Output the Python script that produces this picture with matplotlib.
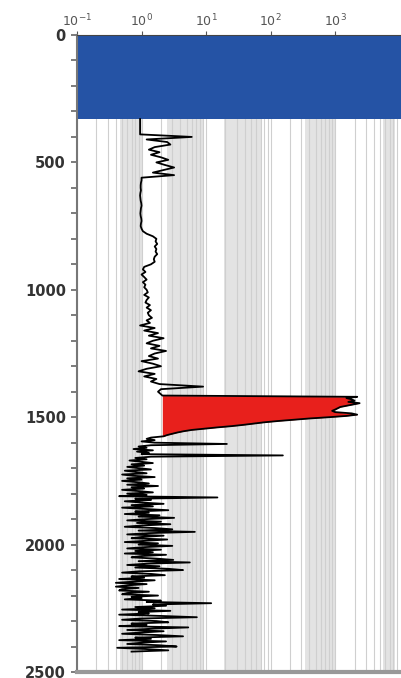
import numpy as np
import matplotlib
matplotlib.use('Agg')
import matplotlib.pyplot as plt
from matplotlib.ticker import NullLocator

# water column (depth m)
WATER_TOP = 0
WATER_BOTTOM = 330

# upper log, sampled every 10 m from 330 m
UPPER_START, UPPER_STEP = 330, 10
UPPER_RES = [
    0.95, 0.95, 0.95, 0.95, 0.95, 0.95, 0.95,
    6.0,
    1.2, 2.5, 2.8, 1.6, 1.3, 1.9, 1.4, 2.0, 2.6, 1.7, 2.3, 3.2, 2.2, 1.5, 3.2, 1.0,
    1.0, 0.98, 0.97, 0.97, 0.98, 0.96, 0.95, 0.96, 0.97, 0.99, 1.0, 0.98, 0.97,
    0.96, 0.97, 0.99, 1.0, 0.98, 0.97, 1.0, 1.05,
    1.2, 1.5, 1.7, 1.65, 1.75, 1.6, 1.7, 1.65, 1.75, 1.6, 1.55, 1.6, 1.4,
    1.1, 1.05, 1.15, 1.0, 1.1, 1.2, 1.05, 1.15, 1.1, 1.2,
    1.25, 1.1, 1.3, 1.2, 1.15, 1.35, 1.2, 1.4, 1.25, 1.3, 1.45, 1.2, 1.35,
    0.95, 1.6, 1.1, 1.8, 1.3, 2.2, 1.5, 1.2, 1.9, 1.4, 2.4, 1.6,
    1.3, 1.8, 1.0, 1.5, 2.0, 1.2, 0.9, 1.6, 1.1, 1.7, 1.4, 1.9, 9.0, 2.0, 1.8,
]

# hydrocarbon interval, sampled every 5 m from 1405 m
PAY_START, PAY_STEP = 1405, 5
PAY_RES = [
    1.9, 2.0, 2.1, 2200, 1500, 1800, 2000, 1600, 2400, 1900, 1500, 1200,
    1100, 1000, 900, 1000, 1800, 2200, 1500, 800, 400, 230, 130, 80, 55,
    38, 25, 15, 9.5, 6.0, 4.5, 3.6, 3.0, 2.5, 2.2, 1.4, 1.2, 1.6, 1.0,
]
PAY_CUTOFF = 2.1

# lower log, sampled every 5 m from 1600 m
LOWER_START, LOWER_STEP = 1600, 5
LOWER_RES = [
    1.6, 21, 1.4, 0.9, 1.2, 0.75, 1.5, 0.85, 1.3, 1.0,
    155, 1.4, 0.8, 1.2, 0.65, 1.0, 1.5, 0.7, 1.1, 0.6,
    0.9, 1.4, 0.55, 0.8, 1.2, 0.5, 0.75, 1.6, 0.6, 1.0,
    0.5, 0.85, 1.3, 0.6, 1.8, 0.7, 1.1, 0.5, 0.9, 1.5,
    0.6, 1.2, 0.45, 15, 0.8, 1.4, 0.55, 1.0, 2.2, 0.7,
    1.5, 0.5, 1.1, 2.6, 0.8, 1.3, 0.55, 1.9, 0.9, 3.2,
    1.2, 0.6, 2.0, 0.85, 2.8, 1.0, 0.55, 1.6, 3.0, 0.9,
    6.7, 1.3, 0.6, 2.2, 1.0, 0.7, 2.5, 1.2, 0.55, 1.8,
    0.9, 3.0, 1.1, 0.6, 2.0, 0.8, 1.5, 0.55, 2.4, 1.0,
    0.7, 1.7, 3.1, 0.9, 5.6, 1.2, 0.6, 1.9, 0.8, 2.6,
    4.4, 0.9, 0.5, 1.4, 2.3, 0.7, 1.1, 0.45, 1.6, 0.8,
    0.4, 1.2, 0.6, 0.4, 0.9, 0.5, 0.45, 1.3, 0.6, 0.5,
    1.8, 0.7, 1.0, 0.55, 2.0, 1.2, 12, 1.5, 2.4, 0.8,
    1.6, 0.5, 2.8, 0.9, 1.3, 0.45, 2.0, 7.2, 1.0, 0.5,
    1.7, 2.6, 0.7, 1.2, 0.45, 5.3, 1.5, 0.6, 2.2, 1.0,
    0.5, 1.8, 4.4, 0.8, 1.4, 0.45, 2.4, 1.0, 0.6, 1.9,
    3.5, 0.42, 1.2, 2.6, 0.7,
]

X_TICKS = [0.1, 1, 10, 100, 1000]
X_TICK_LABELS = ['$10^{-1}$', '$10^{0}$', '$10^{1}$', '$10^{2}$', '$10^{3}$']
Y_LABELLED = [0, 500, 1000, 1500, 2000, 2500]

# light grey background bands
BANDS = [(0.46, 1.0), (2.5, 9.3), (19, 74), (340, 1000), (5500, 8500)]


def sampled(start, step, values):
    values = np.asarray(values, dtype=float)
    return start + step * np.arange(len(values)), values


up_d, up_r = sampled(UPPER_START, UPPER_STEP, UPPER_RES)
pay_d, pay_r = sampled(PAY_START, PAY_STEP, PAY_RES)
low_d, low_r = sampled(LOWER_START, LOWER_STEP, LOWER_RES)
pay_keep = pay_d < LOWER_START
depth = np.concatenate([up_d, pay_d[pay_keep], low_d])
res = np.concatenate([up_r, pay_r[pay_keep], low_r])

fig = plt.figure(figsize=(4.01, 6.78), dpi=100)
ax = fig.add_axes([77 / 401, 1 - 672 / 678, 1 - 77 / 401, (672 - 35) / 678])
ax.set_xscale('log')
ax.set_xlim(0.1, 1.05e4)
ax.set_ylim(2500, 0)

# background: bands + minor grid
for lo, hi in BANDS:
    ax.axvspan(lo, hi, color='#e3e3e3', lw=0, zorder=0)
for dec in [0.1, 1, 10, 100, 1000]:
    for m in range(1, 10):
        ax.axvline(dec * m, color='#cfcfcf', lw=0.8, zorder=0.5)

ax.axhspan(WATER_TOP, WATER_BOTTOM, color='#2553a5', lw=0, zorder=1)

ax.fill_betweenx(pay_d, PAY_CUTOFF, pay_r, where=pay_r >= PAY_CUTOFF,
                 color='#e8201c', lw=0, zorder=2)
ax.plot(res, depth, color='black', lw=1.3, zorder=3)

# axes cosmetics
ax.xaxis.tick_top()
ax.set_xticks(X_TICKS)
ax.set_xticklabels(X_TICK_LABELS)
ax.xaxis.set_minor_locator(NullLocator())
ax.tick_params(axis='x', direction='out', length=3, pad=1, labelsize=9,
               colors='#555555')

ax.set_yticks(range(0, 2600, 100))
ax.set_yticklabels([str(d) if d in Y_LABELLED else '' for d in range(0, 2600, 100)],
                   fontweight='bold', fontsize=10.5, color='#333333')
ax.tick_params(axis='y', direction='out', length=4, width=1.2, pad=4,
               colors='#666666', labelcolor='#333333')

ax.spines['right'].set_visible(False)
ax.spines['top'].set_color('#444444')
ax.spines['left'].set_color('#777777')
ax.spines['left'].set_linewidth(1.5)
ax.spines['bottom'].set_color('#999999')
ax.spines['bottom'].set_linewidth(3)

fig.savefig('out.png', dpi=100)
